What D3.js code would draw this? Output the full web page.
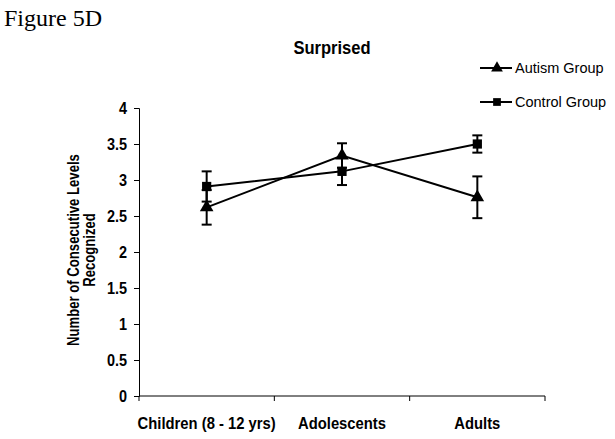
<!DOCTYPE html>
<html>
<head>
<meta charset="utf-8">
<script src="https://cdn.jsdelivr.net/npm/d3@7"></script>
<style>
  body { margin: 0; background: #fff; }
  svg text { font-family: "Liberation Sans", Arial, sans-serif; fill: #000; }
</style>
</head>
<body>
<svg class="chart" width="615" height="439"></svg>
<script>
var categories = ["Children (8 - 12 yrs)", "Adolescents", "Adults"];
var autismMean = [2.62, 3.34, 2.76];
var autismErr = [0.24, 0.17, 0.29];
var controlMean = [2.91, 3.12, 3.5];
var controlErr = [0.21, 0.19, 0.12];
var yTicks = [0, 0.5, 1, 1.5, 2, 2.5, 3, 3.5, 4];
var seriesNames = ["Autism Group", "Control Group"];

var svg = d3.select(".chart");

var x = d3.scaleBand().domain(categories).range([139, 545]);
var y = d3.scaleLinear().domain([0, 4]).range([396, 108]);

// squeeze Arial-like text so it reads like Arial Narrow
function condense(sel, k) {
  sel.each(function () {
    var len = this.getComputedTextLength();
    d3.select(this).attr("textLength", len * k).attr("lengthAdjust", "spacingAndGlyphs");
  });
}

svg.append("text")
  .attr("x", 4).attr("y", 26)
  .style("font-family", "'Liberation Serif', 'Times New Roman', serif")
  .style("font-size", "24px")
  .text("Figure 5D");

svg.append("text")
  .attr("x", 332).attr("y", 54)
  .attr("text-anchor", "middle")
  .style("font-size", "19px").style("font-weight", "bold")
  .text("Surprised")
  .call(condense, 0.87);

// y axis
var yAxis = svg.append("g")
  .attr("transform", "translate(139,0)")
  .call(d3.axisLeft(y).tickValues(yTicks).tickSize(5).tickPadding(7).tickFormat(d3.format("")));
yAxis.selectAll("text").style("font-size", "17px").style("font-weight", "bold")
  .call(condense, 0.85);

// x axis, ticks at band edges
var xAxis = svg.append("g").attr("transform", "translate(0,396)");
xAxis.append("line")
  .attr("x1", x.range()[0]).attr("x2", x.range()[1])
  .attr("stroke", "#000");
var edges = categories.map(function (c) { return x(c); }).concat([x.range()[1]]);
xAxis.selectAll(".edge").data(edges).enter().append("line")
  .attr("x1", function (d) { return d; }).attr("x2", function (d) { return d; })
  .attr("y1", 0).attr("y2", 5).attr("stroke", "#000");
xAxis.selectAll(".lab").data(categories).enter().append("text")
  .attr("x", function (d) { return x(d) + x.bandwidth() / 2; })
  .attr("y", 33)
  .attr("text-anchor", "middle")
  .style("font-size", "17px").style("font-weight", "bold")
  .text(function (d) { return d; })
  .call(condense, 0.87);

// y axis title, two lines
["Number of Consecutive Levels", "Recognized"].forEach(function (t, i) {
  svg.append("text")
    .attr("transform", "translate(" + (79 + i * 16) + ",250) rotate(-90)")
    .attr("text-anchor", "middle")
    .style("font-size", "16px").style("font-weight", "bold")
    .text(t)
    .call(condense, 0.82);
});

function cx(i) { return x(categories[i]) + x.bandwidth() / 2; }

function drawSeries(means, errs, shape) {
  var g = svg.append("g");
  var line = d3.line()
    .x(function (d, i) { return cx(i); })
    .y(function (d) { return y(d); });
  g.append("path").datum(means)
    .attr("d", line).attr("fill", "none")
    .attr("stroke", "#000").attr("stroke-width", 2);
  means.forEach(function (m, i) {
    var hi = y(m + errs[i]), lo = y(m - errs[i]), px = cx(i);
    g.append("line").attr("x1", px).attr("x2", px).attr("y1", hi).attr("y2", lo)
      .attr("stroke", "#000").attr("stroke-width", 2);
    [hi, lo].forEach(function (yy) {
      g.append("line").attr("x1", px - 5).attr("x2", px + 5).attr("y1", yy).attr("y2", yy)
        .attr("stroke", "#000").attr("stroke-width", 2);
    });
  });
  g.selectAll(".m").data(means).enter().append("path")
    .attr("d", d3.symbol().type(shape).size(shape === d3.symbolSquare ? 85 : 80))
    .attr("transform", function (d, i) { return "translate(" + cx(i) + "," + y(d) + ")"; })
    .attr("fill", "#000");
}

drawSeries(controlMean, controlErr, d3.symbolSquare);
drawSeries(autismMean, autismErr, d3.symbolTriangle);

// legend
var legend = svg.append("g");
[d3.symbolTriangle, d3.symbolSquare].forEach(function (shape, i) {
  var ly = 68 + i * 34;
  legend.append("line").attr("x1", 480).attr("x2", 512).attr("y1", ly).attr("y2", ly)
    .attr("stroke", "#000").attr("stroke-width", 2);
  legend.append("path")
    .attr("d", d3.symbol().type(shape).size(60))
    .attr("transform", "translate(497," + ly + ")")
    .attr("fill", "#000");
  legend.append("text")
    .attr("x", 515).attr("y", ly + 5)
    .style("font-size", "14.5px")
    .text(seriesNames[i]);
});
</script>
</body>
</html>
